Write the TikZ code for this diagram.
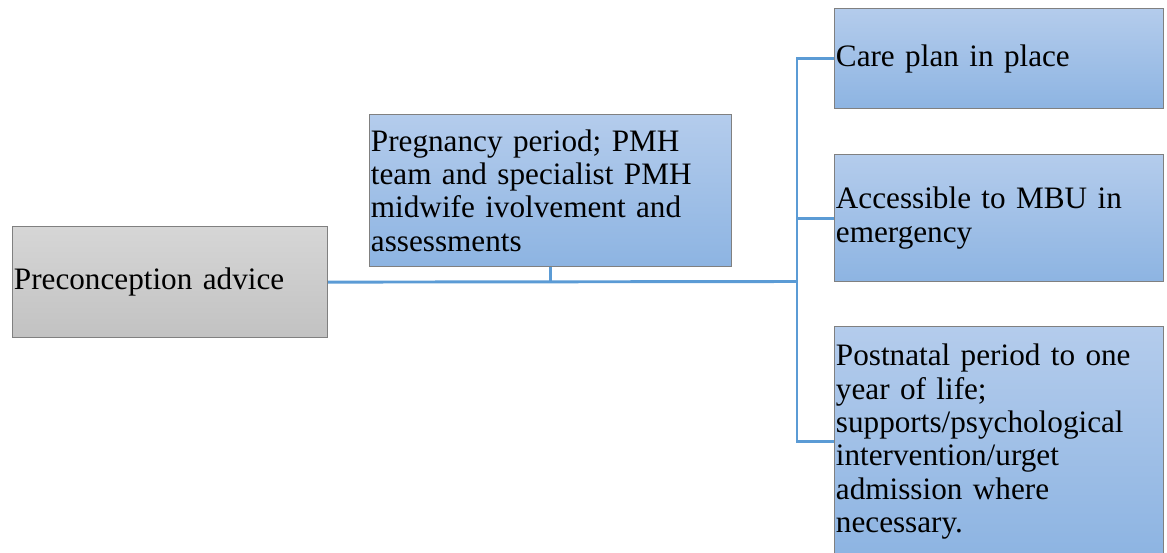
\documentclass[tikz,border=0pt]{standalone}
\usepackage{fontspec}
\setmainfont{Liberation Serif}
\definecolor{bluetop}{RGB}{180,204,236}
\definecolor{bluebot}{RGB}{141,180,226}
\definecolor{greytop}{RGB}{214,214,214}
\definecolor{greybot}{RGB}{194,194,194}
\definecolor{linkblue}{RGB}{91,155,213}
\definecolor{boxline}{RGB}{128,128,128}

\begin{document}
\begin{tikzpicture}[x=0.75pt,y=-0.75pt,
  box/.style={draw=boxline, line width=0.9pt, anchor=north west, align=left,
    inner xsep=1pt, inner ysep=0pt, font=\fontsize{23.4}{25}\selectfont},
  bluebox/.style={box, top color=bluetop, bottom color=bluebot, text width=244.75pt},
  greybox/.style={box, top color=greytop, bottom color=greybot},
  link/.style={draw=linkblue, line width=2.2pt}]
\useasboundingbox (0,0) rectangle (1167,553);

% Stages
\node[greybox, text width=234.25pt, minimum height=83.25pt] (pre) at (12,226) {Preconception advice};
\node[bluebox, text width=269.5pt, minimum height=114pt] (preg) at (369,114)
  {Pregnancy period; PMH\\ team and specialist PMH\\ midwife ivolvement and\\ assessments};
\node[bluebox, minimum height=75pt] (care) at (834,8) {Care plan in place};
\node[bluebox, minimum height=95.25pt] (acc) at (834,154) {Accessible to MBU in\\ emergency};
\node[bluebox, minimum height=172.5pt] (post) at (834,326)
  {Postnatal period to one\\ year of life;\\ supports/psychological\\ intervention/urget\\ admission where\\ necessary.};

% Connectors
\coordinate (hub) at (797,281.5);
\draw[link] (pre.east) -- (hub);
\draw[link] (preg.south) -- (preg.south |- hub);
\draw[link] (care.west) -| (hub) |- (post.west);
\draw[link] (hub |- acc.west) -- (acc.west);

\end{tikzpicture}
\end{document}
